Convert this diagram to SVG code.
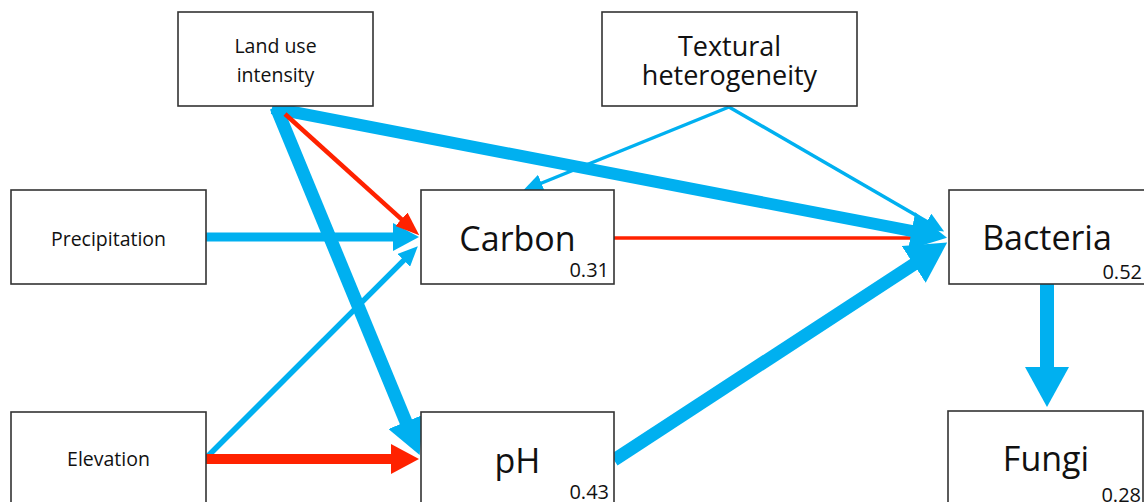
<svg xmlns="http://www.w3.org/2000/svg" width="1144" height="502" viewBox="0 0 1144 502">
<style>
.box{fill:#fff;stroke:#333;stroke-width:1.6}
.lbl{font-family:"Open Sans","Liberation Sans",sans-serif;fill:#111;text-anchor:middle}
.s{font-size:19.5px}
.m{font-size:27px}
.l{font-size:34px}
.v{font-family:"Open Sans","Liberation Sans",sans-serif;fill:#111;font-size:20px;text-anchor:end}
.b{stroke:#00B0F0;fill:none}
.r{stroke:#FF2200;fill:none}
</style>
<defs>
<marker id="hbB" markerUnits="userSpaceOnUse" viewBox="0 0 40 44" markerWidth="40" markerHeight="44" refX="1" refY="22" orient="auto"><path d="M0,0 L40,22 L0,44 z" fill="#00B0F0"/></marker>
<marker id="hbM" markerUnits="userSpaceOnUse" viewBox="0 0 36 38" markerWidth="36" markerHeight="38" refX="1" refY="19" orient="auto"><path d="M0,0 L36,19 L0,38 z" fill="#00B0F0"/></marker>
<marker id="hbS" markerUnits="userSpaceOnUse" viewBox="0 0 26 28" markerWidth="26" markerHeight="28" refX="1" refY="14" orient="auto"><path d="M0,0 L26,14 L0,28 z" fill="#00B0F0"/></marker>
<marker id="hbT" markerUnits="userSpaceOnUse" viewBox="0 0 20 18" markerWidth="20" markerHeight="18" refX="1" refY="9" orient="auto"><path d="M0,0 L20,9 L0,18 z" fill="#00B0F0"/></marker>
<marker id="hrM" markerUnits="userSpaceOnUse" viewBox="0 0 28 30" markerWidth="28" markerHeight="30" refX="1" refY="15" orient="auto"><path d="M0,0 L28,15 L0,30 z" fill="#FF2200"/></marker>
<marker id="hrS" markerUnits="userSpaceOnUse" viewBox="0 0 24 18" markerWidth="24" markerHeight="18" refX="1" refY="9" orient="auto"><path d="M0,0 L24,9 L0,18 z" fill="#FF2200"/></marker>
</defs>
<g id="connectors">
<line class="r" x1="614" y1="238" x2="922" y2="238" stroke-width="3.5"/>
<line class="b" x1="729" y1="107" x2="927.7" y2="222" stroke-width="3.5" marker-end="url(#hbT)"/>
<line class="b" x1="729" y1="107" x2="540.5" y2="183.5" stroke-width="3.5" marker-end="url(#hbT)"/>
<line class="b" x1="272" y1="108" x2="912.6" y2="231.2" stroke-width="12" marker-end="url(#hbM)"/>
<line class="b" x1="614" y1="460" x2="914.5" y2="263.9" stroke-width="13" marker-end="url(#hbB)"/>
<line class="b" x1="276" y1="107" x2="406.3" y2="422.7" stroke-width="13" marker-end="url(#hbM)"/>
<line class="b" x1="206" y1="237" x2="394" y2="237" stroke-width="9" marker-end="url(#hbS)"/>
<line class="b" x1="206" y1="458" x2="404.4" y2="259.6" stroke-width="5.5" marker-end="url(#hbT)"/>
<line class="b" x1="1047" y1="284" x2="1047" y2="368" stroke-width="14" marker-end="url(#hbB)"/>
<line class="r" x1="285" y1="114" x2="402.2" y2="219.9" stroke-width="4.5" marker-end="url(#hrS)"/>
<line class="r" x1="206" y1="459" x2="392" y2="459" stroke-width="10" marker-end="url(#hrM)"/>
</g>
<g id="land-use">
<rect class="box" x="178" y="12" width="195" height="94"/>
<text class="lbl s" x="275.5" y="53">Land use</text>
<text class="lbl s" x="275.5" y="82">intensity</text>
</g>
<g id="textural">
<rect class="box" x="602" y="12" width="255" height="94"/>
<text class="lbl m" x="729.5" y="56">Textural</text>
<text class="lbl m" x="729.5" y="85">heterogeneity</text>
</g>
<g id="precipitation">
<rect class="box" x="11" y="190" width="195" height="94"/>
<text class="lbl s" x="108.5" y="246">Precipitation</text>
</g>
<g id="elevation">
<rect class="box" x="11" y="412" width="195" height="100"/>
<text class="lbl s" x="108.5" y="466">Elevation</text>
</g>
<g id="carbon">
<rect class="box" x="421" y="190" width="193" height="94"/>
<text class="lbl l" x="517.5" y="251">Carbon</text>
<text class="v" x="609" y="277">0.31</text>
</g>
<g id="ph">
<rect class="box" x="421" y="412" width="193" height="100"/>
<text class="lbl l" x="517.5" y="473">pH</text>
<text class="v" x="609" y="499">0.43</text>
</g>
<g id="bacteria">
<rect class="box" x="949" y="190" width="198" height="94"/>
<text class="lbl l" x="1047" y="250">Bacteria</text>
<text class="v" x="1142" y="279">0.52</text>
</g>
<g id="fungi">
<rect class="box" x="948" y="411" width="195" height="100"/>
<text class="lbl l" x="1046" y="471">Fungi</text>
<text class="v" x="1141" y="502">0.28</text>
</g>
</svg>
